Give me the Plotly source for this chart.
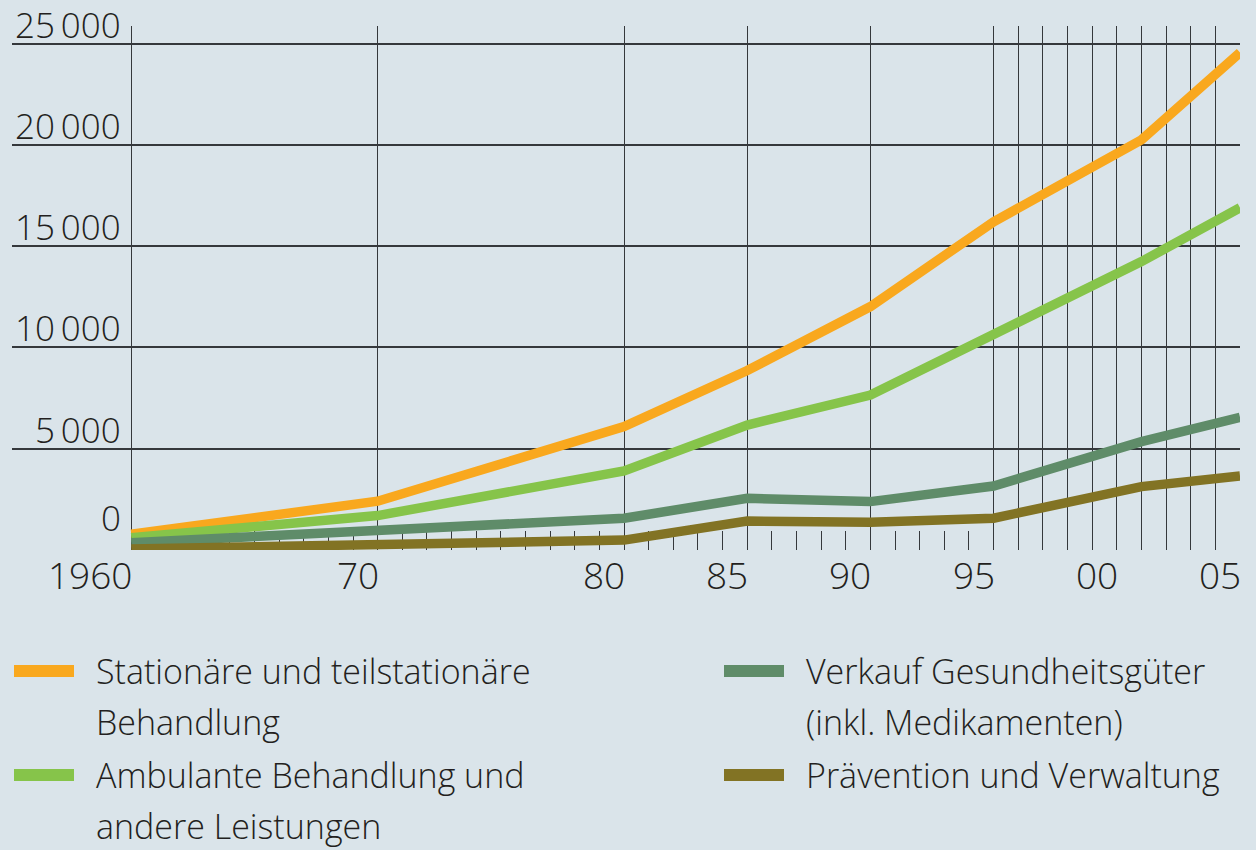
import plotly.graph_objects as go

# ---- data ----
years = [1960, 1970, 1980, 1985, 1990, 1995, 2001, 2005]
stationaer = [775, 2410, 6090, 8860, 12020, 16210, 20250, 24560]
ambulant = [600, 1700, 3900, 6170, 7650, 10620, 14240, 16900]
verkauf = [360, 1000, 1570, 2550, 2390, 3160, 5350, 6550]
praevention = [50, 270, 490, 1430, 1370, 1570, 3130, 3650]

series_names = [
    ["Stationäre und teilstationäre", "Behandlung"],
    ["Ambulante Behandlung und", "andere Leistungen"],
    ["Verkauf Gesundheitsgüter", "(inkl. Medikamenten)"],
    ["Prävention und Verwaltung"],
]
series_values = [stationaer, ambulant, verkauf, praevention]
series_colors = ["#F9A81E", "#86C44A", "#5F8C69", "#827324"]

grid_years = [1960, 1970, 1980, 1985, 1990] + list(range(1995, 2006))
minor_years = [y for y in range(1961, 2005) if y not in grid_years]
x_label_years = [1960, 1970, 1980, 1985, 1990, 1995, 2000, 2005]
x_label_text = ["1960", "70", "80", "85", "90", "95", "00", "05"]
y_ticks = [0, 5000, 10000, 15000, 20000, 25000]
y_tick_text = ["0", "5\u2009000", "10\u2009000", "15\u2009000", "20\u2009000", "25\u2009000"]

# ---- layout geometry (pixels) ----
W, H = 1256, 850
L, R, T, B = 12, 1240, 26, 550
PX_PER_YEAR = (1240 - 131.3) / 45
PX_PER_UNIT = (550 - 43.7) / 25000
x0 = 1960 - (131.3 - L) / PX_PER_YEAR
ymax = 25000 + (43.7 - T) / PX_PER_UNIT

BG = "#DAE4EA"
GRID = "#35383c"
FONT = "Open Sans"
TXT = "#231f20"

def px_x(p):
    return (p - L) / (R - L)

def px_y(p):
    return (B - p) / (B - T)

fig = go.Figure()
for name, vals, col in zip(series_names, series_values, series_colors):
    fig.add_trace(go.Scatter(
        x=years, y=vals, mode="lines", name=" ".join(name),
        line=dict(color=col, width=9.5), showlegend=False,
    ))

annotations = []
for yr, t in zip(x_label_years, x_label_text):
    annotations.append(dict(
        x=yr, xref="x", y=0, yref="y", text=t, showarrow=False,
        xanchor="right", yanchor="top", yshift=3, xshift=3,
        font=dict(family=FONT, size=37, color=TXT, weight=300),
    ))
for v, t in zip(y_ticks, y_tick_text):
    annotations.append(dict(
        x=px_x(123), xref="paper", y=v, yref="y", text=t, showarrow=False,
        xanchor="right", yanchor="bottom", yshift=(7 if v == 0 else -6),
        font=dict(family=FONT, size=35, color=TXT, weight=300),
    ))

shapes = []
legend_pos = [(14, 671), (14, 775), (724, 671), (724, 775)]
for (sx, sy), lines, col in zip(legend_pos, series_names, series_colors):
    shapes.append(dict(
        type="rect", xref="paper", yref="paper",
        x0=px_x(sx), x1=px_x(sx + 60), y0=px_y(sy + 6), y1=px_y(sy - 6),
        fillcolor=col, line=dict(width=0),
    ))
    for i, ln in enumerate(lines):
        annotations.append(dict(
            x=px_x(sx + 80), xref="paper", y=px_y(sy + 51 * i), yref="paper",
            text=ln, showarrow=False, xanchor="left", yanchor="middle",
            font=dict(family=FONT, size=34, color=TXT, weight=300),
        ))

fig.update_layout(
    width=W, height=H,
    margin=dict(l=L, r=W - R, t=T, b=H - B, pad=0),
    paper_bgcolor=BG, plot_bgcolor=BG,
    annotations=annotations, shapes=shapes,
    xaxis=dict(
        range=[x0, 2005], tickmode="array", tickvals=grid_years,
        showticklabels=False, ticks="", showgrid=True, gridcolor=GRID, gridwidth=1.4,
        zeroline=False, showline=False, layer="below traces", fixedrange=True,
        minor=dict(tickmode="array", tickvals=minor_years, ticks="inside",
                   ticklen=19, tickcolor=GRID, tickwidth=1.3, showgrid=False),
    ),
    yaxis=dict(
        range=[0, ymax], tickmode="array", tickvals=y_ticks,
        showticklabels=False, ticks="", showgrid=True, gridcolor=GRID, gridwidth=1.5,
        zeroline=False, showline=False, fixedrange=True,
    ),
)

fig.write_html(
    "out.html",
    config={"displayModeBar": False},
    post_script="document.body.style.margin='0';document.body.style.background='%s';" % BG,
)
